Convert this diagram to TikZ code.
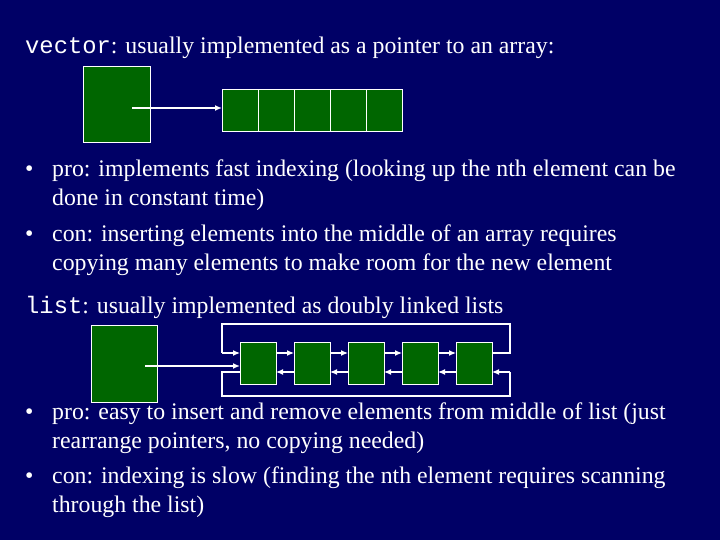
\documentclass[tikz,border=0pt]{standalone}
\usepackage{fontspec}
\setmainfont{Liberation Serif}
\setmonofont{Liberation Mono}
\usetikzlibrary{arrows.meta}
\definecolor{bg}{RGB}{0,0,102}
\definecolor{gr}{RGB}{0,102,0}
\begin{document}
\begin{tikzpicture}[x=1pt,y=-1pt,
  box/.style={draw=white,fill=gr,line width=1pt},
  ptr/.style={draw=white,line width=1.2pt,-{Latex[length=7pt,width=6pt]}},
  ln/.style={draw=white,line width=1.2pt},
  txt/.style={text=white,anchor=base west,font=\fontsize{23.8}{28}\selectfont,inner sep=0pt}]
\fill[bg] (0,0) rectangle (720,540);
\useasboundingbox (0,0) rectangle (720,540);
% vector
\node[txt] (t1) at (25,54) {\texttt{vector}: usually implemented as a pointer to an array:};
\draw[box] (83,67) rectangle (150,143);
\coordinate (vp) at (132,108);
\foreach \i in {0,...,4}{\draw[box] (222+36*\i,90) rectangle (258+36*\i,132);}
\coordinate (a0) at (222,108);
\draw[ptr,line width=1.6pt] (vp) -- (a0);
\node[txt] (d1) at (25,177) {•}; \node[txt] (l1) at (52,177) {pro: implements fast indexing (looking up the nth element can be};
\node[txt] (l2) at (52,206) {done in constant time)};
\node[txt] (d2) at (25,241) {•}; \node[txt] (l3) at (52,241) {con: inserting elements into the middle of an array requires};
\node[txt] (l4) at (52,270) {copying many elements to make room for the new element};
% list
\node[txt] (t2) at (25,313) {\texttt{list}: usually implemented as doubly linked lists};
\draw[box] (91,325) rectangle (157,402);
\foreach \x [count=\i] in {240,294,348,402,456}{
  \draw[box] (\x,342) rectangle ++(36,42);
  \coordinate (f\i) at (\x+36,353); \coordinate (g\i) at (\x,353);
  \coordinate (h\i) at (\x+36,372); \coordinate (k\i) at (\x,372);}
\foreach \i/\j in {1/2,2/3,3/4,4/5}{
  \draw[ptr] (f\i) -- (g\j);
  \draw[ptr] (k\j) -- (h\i);}
\draw[ptr,line width=1.6pt] (145,366) -- (240,366);
\coordinate (c1) at (222,353); \coordinate (c2) at (510,372);
\draw[ln] (f5) -- (510,353) -- (510,324) -- (222,324) -- (c1);
\draw[ptr] (c1) -- (g1);
\draw[ln] (k1) -- (222,372) -- (222,396) -- (510,396) -- (c2);
\draw[ptr] (c2) -- (h5);
\node[txt] (d3) at (25,419) {•}; \node[txt] (l5) at (52,419) {pro: easy to insert and remove elements from middle of list (just};
\node[txt] (l6) at (52,448) {rearrange pointers, no copying needed)};
\node[txt] (d4) at (25,483) {•}; \node[txt] (l7) at (52,483) {con: indexing is slow (finding the nth element requires scanning};
\node[txt] (l8) at (52,512) {through the list)};
\end{tikzpicture}
\end{document}
